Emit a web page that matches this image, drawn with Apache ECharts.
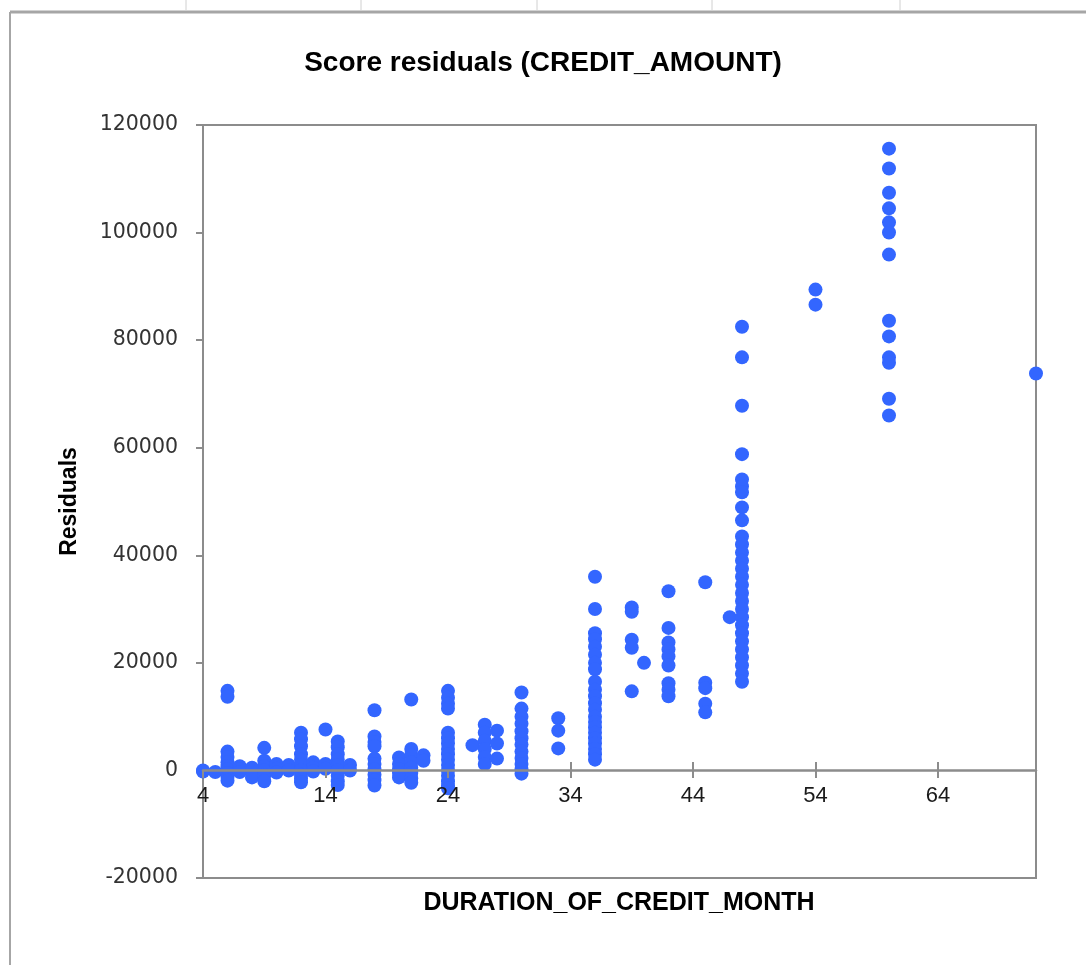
<!DOCTYPE html>
<html><head><meta charset="utf-8">
<script src="https://cdn.jsdelivr.net/npm/echarts@6/dist/echarts.min.js"></script>
<style>html,body{margin:0;padding:0;background:#fff}#main{width:1086px;height:965px}</style>
</head><body><div id="main"></div>
<script>
const titleText = 'Score residuals (CREDIT_AMOUNT)';
const xAxisTitle = 'DURATION_OF_CREDIT_MONTH';
const yAxisTitle = 'Residuals';
const xTicks = [4, 14, 24, 34, 44, 54, 64];
const durations = [4,5,6,7,8,9,10,11,12,13,14,15,16,18,20,21,22,24,26,27,28,30,33,36,39,40,42,45,47,48,54,60,72];
const residuals = [
  [0, -200],
  [-300],
  [14800, 13700, 3500, 2500, 1500, 800, 200, -500, -1200, -1900],
  [800, 200, -300],
  [500, -200, -1300],
  [4200, 1800, 800, 0, -900, -2000],
  [1200, 300, -400],
  [1000, 0],
  [7000, 5800, 4500, 3000, 2000, 1000, 0, -800, -1500, -2200],
  [1500, 500, -200],
  [7600, 1200, 300],
  [5400, 4300, 3000, 2000, 1000, 0, -1000, -2000, -2700],
  [1000, 0],
  [11200, 6300, 5300, 4500, 2200, 1200, 200, -800, -1800, -2800],
  [2400, 1200, 200, -500, -1300],
  [13200, 4000, 2800, 1500, 500, -500, -1500, -2300],
  [2800, 1800],
  [14800, 13500, 12400, 11500, 7000, 6000, 5000, 4000, 3000, 2000, 1000, 0, -1000, -2000, -2800, -3300],
  [4700],
  [8500, 7000, 5500, 4000, 2500, 1200],
  [7400, 5000, 2200],
  [14500, 11500, 10000, 8700, 7300, 6000, 4800, 3500, 2300, 1200, 200, -600],
  [9700, 7400, 4100],
  [36000, 30000, 25500, 24400, 23000, 21500, 20000, 18800, 16500, 15000, 13800, 12500, 11300, 10000, 9000, 8000, 7000, 6000, 5000, 4000, 3000, 2000],
  [30300, 29500, 24300, 22800, 14700],
  [20000],
  [33300, 26500, 23800, 22500, 21200, 19500, 16200, 15000, 13800],
  [35000, 16300, 15300, 12400, 10800],
  [28500],
  [82500, 76800, 67800, 58800, 54100, 52800, 51700, 48900, 46500, 43500, 42000, 40500, 39000, 37500, 36000, 34500, 33000, 31500, 30000, 28500, 27000, 25500, 24000, 22500, 21000, 19500, 18000, 16500],
  [89400, 86600],
  [115600, 111900, 107400, 104500, 101900, 100000, 95900, 83600, 80700, 76800, 75800, 69100, 66000],
  [73800]
];
const points = durations.flatMap((d, i) => residuals[i].map(v => [d, v]));

const narrow = "'Liberation Sans Narrow', 'Liberation Sans', sans-serif";
const axisGray = '#8c8c8c';
const G = { left: 203, right: 50 };
const hiddenY = (gi) => ({ gridIndex: gi, type: 'value', min: 0, max: 1, show: false });
const chart = echarts.init(document.getElementById('main'));
chart.setOption({
  animation: false,
  backgroundColor: '#fff',
  title: {
    text: titleText, left: 'center', top: 44,
    textStyle: { fontFamily: narrow, fontWeight: 'bold', fontSize: 28, color: '#000' }
  },
  grid: [
    { left: G.left, right: G.right, top: 125, bottom: 87, show: true, borderColor: axisGray, borderWidth: 2 },
    { left: G.left, right: G.right, top: 125, bottom: 195 },
    { left: G.left, right: G.right, top: 770, bottom: 87 }
  ],
  xAxis: [{
    gridIndex: 0, type: 'value', min: 4, max: 72, show: false
  }, {
    gridIndex: 1, type: 'value', min: 4, max: 72, position: 'bottom', z: 10,
    axisLine: { show: true, onZero: false, lineStyle: { color: axisGray, width: 2.5 } },
    axisTick: { show: true, customValues: xTicks, length: 8, lineStyle: { color: axisGray, width: 2 } },
    axisLabel: { customValues: xTicks, fontFamily: narrow, fontSize: 22, color: '#1a1a1a', margin: 15 },
    splitLine: { show: false }
  }, {
    gridIndex: 2, type: 'value', min: 4, max: 72, position: 'top',
    axisLine: { show: false, onZero: false },
    axisTick: { show: true, customValues: xTicks, length: 8, lineStyle: { color: axisGray, width: 2 } },
    axisLabel: { show: false },
    splitLine: { show: false }
  }],
  yAxis: [{
    gridIndex: 0, type: 'value', min: -20000, max: 120000, interval: 20000,
    name: yAxisTitle, nameLocation: 'middle', nameRotate: 90, nameGap: 122,
    nameTextStyle: { fontFamily: narrow, fontWeight: 'bold', fontSize: 23, color: '#000' },
    axisLine: { show: true, onZero: false, lineStyle: { color: axisGray, width: 2 } },
    axisTick: { show: true, length: 7, lineStyle: { color: axisGray, width: 2 } },
    axisLabel: { fontFamily: "'DejaVu Sans', sans-serif", fontSize: 20.5, color: '#333', margin: 25,
      formatter: v => String(v) },
    splitLine: { show: false }
  }, hiddenY(1), hiddenY(2)],
  graphic: [
    { type: 'text', x: 619, y: 903, style: { text: xAxisTitle, fontFamily: narrow, fontWeight: 'bold', fontSize: 25, fill: '#000', align: 'center', verticalAlign: 'middle' } },
    { type: 'line', shape: { x1: 10, y1: 12, x2: 1086, y2: 12 }, style: { stroke: '#a6a6a6', lineWidth: 3 } },
    { type: 'line', shape: { x1: 10, y1: 12, x2: 10, y2: 965 }, style: { stroke: '#a6a6a6', lineWidth: 2 } },
    { type: 'line', shape: { x1: 186, y1: 0, x2: 186, y2: 10 }, style: { stroke: '#d0d0d0', lineWidth: 1 } },
    { type: 'line', shape: { x1: 361, y1: 0, x2: 361, y2: 10 }, style: { stroke: '#d0d0d0', lineWidth: 1 } },
    { type: 'line', shape: { x1: 537, y1: 0, x2: 537, y2: 10 }, style: { stroke: '#d0d0d0', lineWidth: 1 } },
    { type: 'line', shape: { x1: 712, y1: 0, x2: 712, y2: 10 }, style: { stroke: '#d0d0d0', lineWidth: 1 } },
    { type: 'line', shape: { x1: 900, y1: 0, x2: 900, y2: 10 }, style: { stroke: '#d0d0d0', lineWidth: 1 } }
  ],
  series: [{
    type: 'scatter', xAxisIndex: 0, yAxisIndex: 0,
    data: points, symbolSize: 14, z: 5,
    itemStyle: { color: '#3366ff', opacity: 1 },
    emphasis: { disabled: true }
  }]
});
</script></body></html>
